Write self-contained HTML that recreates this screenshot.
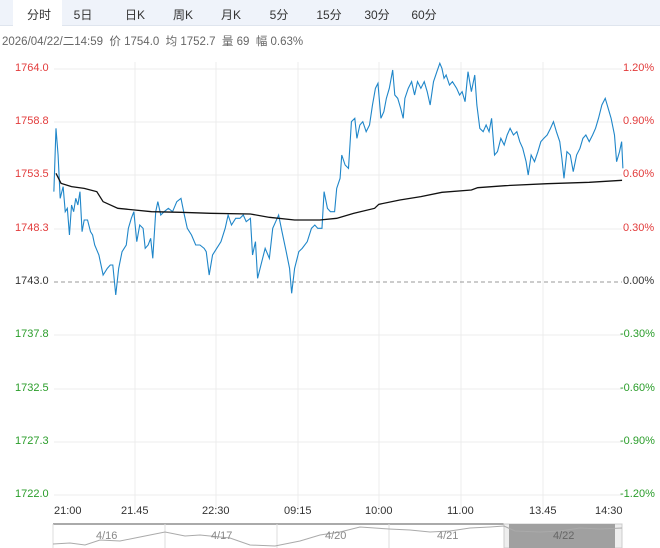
<!DOCTYPE html>
<html><head><meta charset="utf-8"><style>
html,body{margin:0;padding:0;background:#fff;width:660px;height:548px;overflow:hidden;font-family:"Liberation Sans","Noto Sans CJK SC",sans-serif}
.tabs{position:absolute;left:0;top:0;width:660px;height:25px;background:#eff3fa;border-bottom:1px solid #dfe5ee}
.tab{position:absolute;top:6px;font-size:12px;color:#333;transform:translateX(-50%)}
.sel{position:absolute;left:13px;top:0;width:49px;height:26px;background:#fff}
.info{position:absolute;left:2px;top:33px;font-size:11.5px;color:#666;white-space:nowrap}
.l{position:absolute;font-size:11px;white-space:nowrap}
</style></head><body>
<div class="tabs"><div class="sel"></div>
<span class="tab" style="left:39px">分时</span><span class="tab" style="left:83px">5日</span><span class="tab" style="left:135px">日K</span><span class="tab" style="left:183px">周K</span><span class="tab" style="left:231px">月K</span><span class="tab" style="left:279px">5分</span><span class="tab" style="left:329px">15分</span><span class="tab" style="left:377px">30分</span><span class="tab" style="left:424px">60分</span></div>
<div class="info">2026/04/22/二14:59 &nbsp;价 1754.0 &nbsp;均 1752.7 &nbsp;量 69 &nbsp;幅 0.63%</div>
<svg width="660" height="548" style="position:absolute;left:0;top:0">
<g stroke="#ececec" stroke-width="1">
<line x1="54" y1="69" x2="622" y2="69"/><line x1="54" y1="122" x2="622" y2="122"/><line x1="54" y1="175" x2="622" y2="175"/><line x1="54" y1="229" x2="622" y2="229"/><line x1="54" y1="335" x2="622" y2="335"/><line x1="54" y1="389" x2="622" y2="389"/><line x1="54" y1="442" x2="622" y2="442"/><line x1="54" y1="495" x2="622" y2="495"/>
<line x1="135" y1="62" x2="135" y2="510"/><line x1="216" y1="62" x2="216" y2="510"/><line x1="298" y1="62" x2="298" y2="510"/><line x1="379" y1="62" x2="379" y2="510"/><line x1="461" y1="62" x2="461" y2="510"/><line x1="543" y1="62" x2="543" y2="510"/>
</g>
<line x1="54" y1="282" x2="622" y2="282" stroke="#999" stroke-dasharray="4,3"/>
<g transform="translate(0,55) scale(0.42088,0.33333)" fill="none">
<polyline vector-effect="non-scaling-stroke" stroke="#1f86c9" stroke-width="1.1" points="128,410 133,220 138,300 143,430 150,395 155,470 160,460 165,540 170,450 175,470 180,430 185,450 190,410 195,530 200,495 208,495 215,530 220,540 225,570 235,600 245,660 255,640 262,630 268,630 275,720 282,640 290,590 300,570 305,520 312,490 318,470 325,560 332,510 340,520 345,580 352,570 358,550 363,610 370,470 375,440 382,480 390,470 400,460 410,470 420,440 430,430 438,480 445,520 455,540 465,570 475,570 485,580 490,590 497,660 505,600 515,580 525,560 535,520 542,480 550,510 560,490 570,490 578,480 585,500 595,490 600,600 607,560 612,670 620,630 630,580 640,610 648,520 655,500 662,480 670,530 680,590 688,640 693,715 700,640 710,590 718,580 730,560 740,520 748,510 755,520 765,520 770,410 778,460 785,470 795,470 800,400 808,370 812,300 820,330 828,340 835,200 843,190 848,250 855,210 862,200 870,230 878,210 885,150 892,100 898,85 905,190 912,170 918,130 925,100 933,45 938,120 945,130 952,160 958,190 962,130 970,100 978,80 985,120 992,80 1000,100 1008,80 1015,110 1022,150 1030,80 1038,50 1045,25 1050,40 1055,70 1060,60 1068,90 1075,80 1085,100 1092,120 1098,110 1105,140 1112,50 1120,110 1128,60 1133,150 1140,220 1148,230 1155,210 1162,230 1168,190 1175,300 1182,290 1190,250 1198,270 1205,240 1212,220 1220,240 1228,230 1235,260 1242,280 1250,320 1255,360 1262,300 1270,320 1278,290 1285,260 1292,250 1300,240 1308,220 1315,200 1322,230 1330,260 1335,310 1340,370 1347,290 1355,300 1362,350 1370,300 1378,280 1385,250 1392,240 1400,260 1408,240 1415,220 1422,190 1430,150 1438,130 1445,160 1452,190 1460,240 1465,320 1472,290 1477,260 1480,340"/>
<polyline vector-effect="non-scaling-stroke" stroke="#111" stroke-width="1.3" points="133,355 145,385 170,395 200,400 230,410 245,440 280,460 320,465 360,470 430,472 500,475 595,477 640,487 700,495 760,495 800,490 840,475 890,460 900,448 950,435 1000,425 1050,412 1120,405 1135,398 1200,392 1300,386 1400,382 1478,376"/>
</g>
<line x1="53" y1="524" x2="622" y2="524" stroke="#555" stroke-width="1"/>
<rect x="504" y="524" width="118" height="24" fill="#eee" stroke="#ccc"/>
<rect x="509" y="524" width="106" height="24" fill="#a0a0a0"/>
<g stroke="#ddd"><line x1="53" y1="524" x2="53" y2="548"/><line x1="165" y1="524" x2="165" y2="548"/><line x1="277" y1="524" x2="277" y2="548"/><line x1="389" y1="524" x2="389" y2="548"/></g>
<polyline fill="none" stroke="#aaa" stroke-width="1" points="53,544 70,543 85,545 100,540 120,541 140,537 165,532 185,536 200,535 230,538 250,545 275,546 300,541 320,535 340,532 360,527 389,529 410,530 430,532 450,531 470,528 490,527 504,526 515,531 540,532 560,531 580,528 600,529 622,528"/>
</svg>
<div class="l" style="left:15px;top:62px;color:#e23b3b">1764.0</div>
<div class="l" style="left:15px;top:115px;color:#e23b3b">1758.8</div>
<div class="l" style="left:15px;top:168px;color:#e23b3b">1753.5</div>
<div class="l" style="left:15px;top:222px;color:#e23b3b">1748.3</div>
<div class="l" style="left:15px;top:275px;color:#333">1743.0</div>
<div class="l" style="left:15px;top:328px;color:#2a9d2a">1737.8</div>
<div class="l" style="left:15px;top:382px;color:#2a9d2a">1732.5</div>
<div class="l" style="left:15px;top:435px;color:#2a9d2a">1727.3</div>
<div class="l" style="left:15px;top:488px;color:#2a9d2a">1722.0</div>
<div class="l" style="left:623px;top:62px;color:#e23b3b">1.20%</div>
<div class="l" style="left:623px;top:115px;color:#e23b3b">0.90%</div>
<div class="l" style="left:623px;top:168px;color:#e23b3b">0.60%</div>
<div class="l" style="left:623px;top:222px;color:#e23b3b">0.30%</div>
<div class="l" style="left:623px;top:275px;color:#333">0.00%</div>
<div class="l" style="left:620px;top:328px;color:#2a9d2a">-0.30%</div>
<div class="l" style="left:620px;top:382px;color:#2a9d2a">-0.60%</div>
<div class="l" style="left:620px;top:435px;color:#2a9d2a">-0.90%</div>
<div class="l" style="left:620px;top:488px;color:#2a9d2a">-1.20%</div>
<div class="l" style="left:54px;top:505px;color:#333">21:00</div>
<div class="l" style="left:121px;top:505px;color:#333">21.45</div>
<div class="l" style="left:202px;top:505px;color:#333">22:30</div>
<div class="l" style="left:284px;top:505px;color:#333">09:15</div>
<div class="l" style="left:365px;top:505px;color:#333">10:00</div>
<div class="l" style="left:447px;top:505px;color:#333">11.00</div>
<div class="l" style="left:529px;top:505px;color:#333">13.45</div>
<div class="l" style="left:595px;top:505px;color:#333">14:30</div>
<div class="l" style="left:96px;top:530px;color:#888">4/16</div>
<div class="l" style="left:211px;top:530px;color:#888">4/17</div>
<div class="l" style="left:325px;top:530px;color:#888">4/20</div>
<div class="l" style="left:437px;top:530px;color:#888">4/21</div>
<div class="l" style="left:553px;top:530px;color:#666">4/22</div>
</body></html>
